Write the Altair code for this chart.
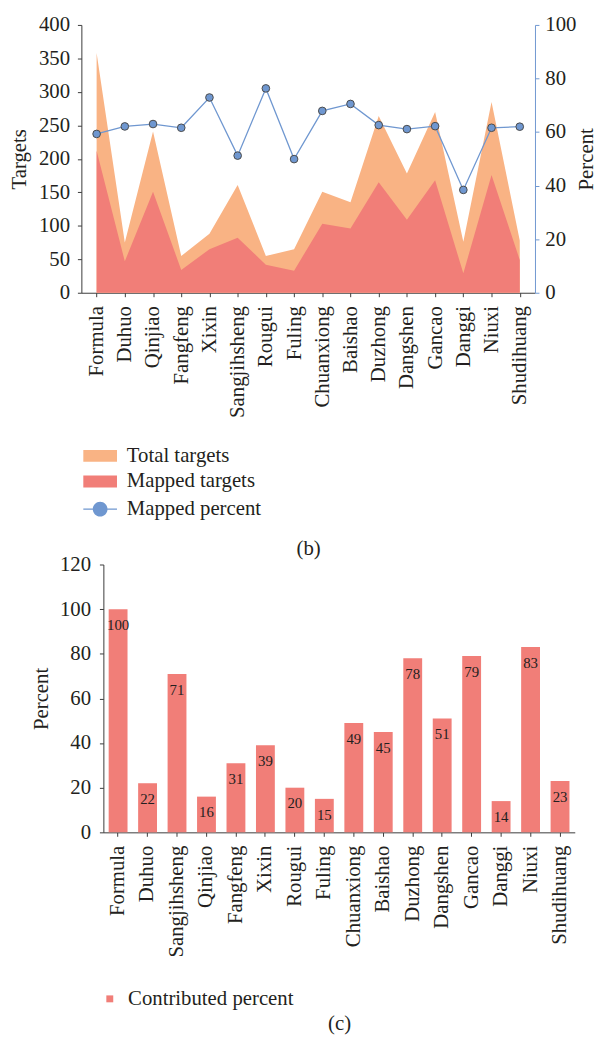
import altair as alt
import pandas as pd

# ---------------- data ----------------
herbs_b = ["Formula", "Duhuo", "Qinjiao", "Fangfeng", "Xixin", "Sangjihsheng",
           "Rougui", "Fuling", "Chuanxiong", "Baishao", "Duzhong", "Dangshen",
           "Gancao", "Danggi", "Niuxi", "Shudihuang"]
total_targets = [358, 75, 241, 55, 88, 161, 55, 65, 151, 135, 264, 178, 270, 76, 285, 78]
mapped_targets = [212, 47, 151, 34, 65, 82, 42, 33, 103, 96, 165, 109, 168, 29, 176, 49]
mapped_percent = [59.3, 62.1, 63.0, 61.6, 72.9, 51.2, 76.3, 49.9, 67.9, 70.5, 62.6,
                  61.1, 62.2, 38.4, 61.6, 62.0]

herbs_c = ["Formula", "Duhuo", "Sangjihsheng", "Qinjiao", "Fangfeng", "Xixin",
           "Rougui", "Fuling", "Chuanxiong", "Baishao", "Duzhong", "Dangshen",
           "Gancao", "Danggi", "Niuxi", "Shudihuang"]
contributed = [100, 22, 71, 16, 31, 39, 20, 15, 49, 45, 78, 51, 79, 14, 83, 23]

series_area = ["Total targets", "Mapped targets"]
colors_area = ["#F9B384", "#F17E78"]
series_line = ["Mapped percent"]
series_c = ["Contributed percent"]
colors_c = ["#F17E78"]

ticks_targets = [0, 50, 100, 150, 200, 250, 300, 350, 400]
ticks_percent_b = [0, 20, 40, 60, 80, 100]
ticks_percent_c = [0, 20, 40, 60, 80, 100, 120]

# ---------------- styles ----------------
FONT = "Liberation Serif"
INK = "#231f20"
AXIS = "#3a3a3a"
BLUE = "#6F97D0"

df_b = pd.DataFrame({"herb": herbs_b, "total": total_targets,
                     "mapped": mapped_targets, "pct": mapped_percent})
df_c = pd.DataFrame({"herb": herbs_c, "val": contributed})

# legend symbols: wide rectangles for the areas, line with a dot for the percent
rect_path = "M-1.42,-0.5H1.42V0.5H-1.42Z"
dot_path = ("M-1.42,-0.055H-0.6V0.055H-1.42Z"
            "M0.6,-0.055H1.42V0.055H0.6Z"
            "M-0.62,0A0.62,0.62,0,1,1,0.62,0A0.62,0.62,0,1,1,-0.62,0Z")

legend_area = alt.Legend(
    title=None, orient="none", legendX=7, legendY=424, direction="vertical",
    symbolType=rect_path, symbolSize=576, symbolStrokeWidth=0, rowPadding=4,
    labelOffset=15, labelFontSize=21, labelFont=FONT, labelColor=INK,
    padding=0, labelLimit=400, symbolOpacity=1,
)
legend_line = alt.Legend(
    title=None, orient="none", legendX=7, legendY=478, direction="vertical",
    symbolSize=576, symbolStrokeWidth=0, symbolStrokeColor="#4a4a4a",
    symbolFillColor=BLUE, symbolOpacity=1, labelOffset=15, labelFontSize=21,
    labelFont=FONT, labelColor=INK, padding=0, labelLimit=400,
)

x_b = alt.X("herb:N", sort=herbs_b,
            scale=alt.Scale(type="point", padding=0.54),
            axis=alt.Axis(title="(b)", labelAngle=270, labelPadding=9,
                          tickSize=4, titlePadding=122))
axis_targets = alt.Axis(title="Targets", values=ticks_targets, labelPadding=8,
                        titlePadding=9, tickSize=4)
y_total = alt.Y("total:Q", stack=None, scale=alt.Scale(domain=[0, 400]), axis=axis_targets)
y_mapped = alt.Y("mapped:Q", stack=None, scale=alt.Scale(domain=[0, 400]), axis=axis_targets)
y_pct = alt.Y("pct:Q", scale=alt.Scale(domain=[0, 100]),
              axis=alt.Axis(orient="right", title="Percent", values=ticks_percent_b,
                            domainColor=BLUE, tickColor=BLUE, tickSize=4,
                            labelPadding=6, titlePadding=0, titleAngle=270,
                            titleBaseline="top"))
color_area = alt.Scale(domain=series_area, range=colors_area)

total_area = alt.Chart(df_b).transform_calculate(
    series=f"'{series_area[0]}'"
).mark_area(opacity=1).encode(
    x=x_b, y=y_total,
    color=alt.Color("series:N", scale=color_area, legend=legend_area),
)
mapped_area = alt.Chart(df_b).transform_calculate(
    series=f"'{series_area[1]}'"
).mark_area(opacity=1).encode(
    x=x_b, y=y_mapped,
    color=alt.Color("series:N", scale=color_area, legend=legend_area),
)
pct_line = alt.Chart(df_b).mark_line(strokeWidth=1.3, color=BLUE).encode(x=x_b, y=y_pct)
pct_points = alt.Chart(df_b).mark_point(
    filled=True, size=60, fill=BLUE, stroke="#4a4a4a", strokeWidth=1, opacity=1
).encode(x=x_b, y=y_pct)
# legend carrier for the line series: no data rows, only its legend entry
pct_key = alt.Chart(df_b).transform_filter("false").transform_calculate(
    series=f"'{series_line[0]}'"
).mark_point(filled=True, fill=BLUE, size=576, opacity=1).encode(
    x=x_b, y=y_pct,
    shape=alt.Shape("series:N", scale=alt.Scale(domain=series_line, range=[dot_path]),
                    legend=legend_line),
)

top = alt.layer(
    alt.layer(total_area, mapped_area),
    alt.layer(pct_line, pct_points, pct_key),
).resolve_scale(y="independent").properties(width=459, height=271)

# ---------------- bottom chart ----------------
legend_c = alt.Legend(
    title=None, orient="none", legendX=-4, legendY=429, symbolType="square",
    symbolSize=49, symbolStrokeWidth=0, labelOffset=8, labelFontSize=21,
    labelFont=FONT, labelColor=INK, padding=0, labelLimit=400, symbolOpacity=1,
)
x_c = alt.X("herb:N", sort=herbs_c,
            scale=alt.Scale(paddingInner=0.36, paddingOuter=0.18),
            axis=alt.Axis(title="(c)", labelAngle=270, labelPadding=9,
                          tickSize=4, titlePadding=56))
y_c = alt.Y("val:Q", scale=alt.Scale(domain=[0, 120]),
            axis=alt.Axis(title="Percent", values=ticks_percent_c, labelPadding=9,
                          titlePadding=8, tickSize=4))

bars = alt.Chart(df_c).transform_calculate(
    series=f"'{series_c[0]}'"
).mark_bar().encode(
    x=x_c, y=y_c,
    color=alt.Color("series:N", scale=alt.Scale(domain=series_c, range=colors_c),
                    legend=legend_c),
)
bar_text = alt.Chart(df_c).mark_text(
    baseline="top", dy=9, fontSize=15, color=INK, font=FONT
).encode(x=x_c, y=y_c, text="val:Q")

bottom = alt.layer(bars, bar_text).properties(width=477, height=271)

chart = alt.vconcat(top, bottom, spacing=-6, center=True).resolve_scale(
    color="independent", shape="independent"
).properties(
    padding={"left": 0, "top": 0, "right": 0, "bottom": 0}
).configure(font=FONT).configure_view(stroke=None).configure_axis(
    labelFontSize=21, titleFontSize=21, titleFontWeight="normal",
    labelColor=INK, titleColor=INK, domainColor=AXIS, tickColor=AXIS,
    grid=False, labelFont=FONT, titleFont=FONT,
)

chart.save("out.html", embed_options={"renderer": "svg", "actions": False})
